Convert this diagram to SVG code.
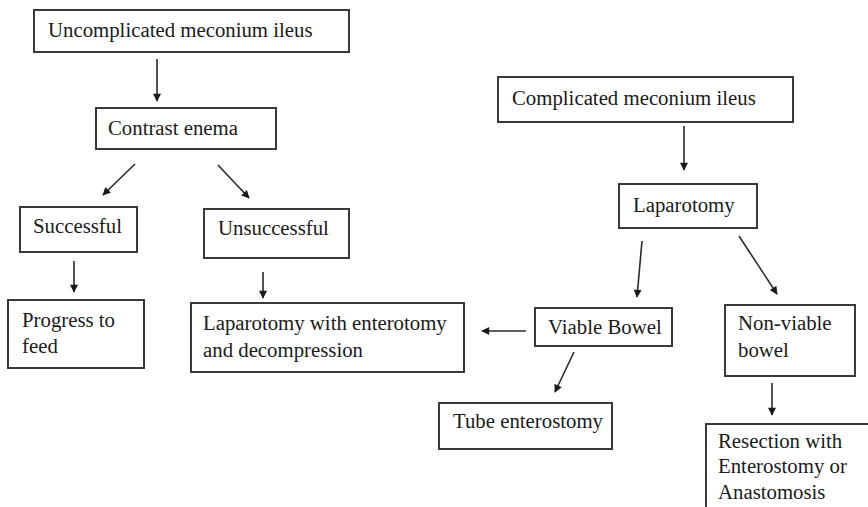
<svg xmlns="http://www.w3.org/2000/svg" width="868" height="507" viewBox="0 0 868 507">
<style>
.box{fill:#fff;stroke:#3a3a3a;stroke-width:2}
.t{font-family:'Liberation Serif','Times New Roman','DejaVu Serif',serif;font-size:20.8px;fill:#1a1a1a}
.c{stroke:#2a2a2a;stroke-width:1.6;fill:none;marker-end:url(#ah)}
</style>
<defs>
<marker id="ah" viewBox="0 0 10 10" refX="9" refY="5" markerWidth="9" markerHeight="8" markerUnits="userSpaceOnUse" orient="auto">
<path d="M0,0 L10,5 L0,10 z" fill="#1a1a1a"/>
</marker>
</defs>
<rect width="868" height="507" fill="#fff"/>
<g id="connectors">
<line class="c" x1="157" y1="59" x2="157" y2="101"/>
<line class="c" x1="135" y1="164" x2="103" y2="195"/>
<line class="c" x1="218" y1="165" x2="249" y2="198"/>
<line class="c" x1="74" y1="261" x2="74" y2="292"/>
<line class="c" x1="263" y1="272" x2="263" y2="298"/>
<line class="c" x1="684" y1="126" x2="684" y2="170"/>
<line class="c" x1="642" y1="241" x2="637" y2="297"/>
<line class="c" x1="739" y1="236" x2="777" y2="294"/>
<line class="c" x1="526" y1="331" x2="482" y2="331"/>
<line class="c" x1="574" y1="352" x2="555" y2="392"/>
<line class="c" x1="772" y1="383" x2="772" y2="415"/>
</g>
<g id="n1"><rect class="box" x="34" y="10" width="315" height="42"/><text class="t" x="48" y="37">Uncomplicated meconium ileus</text></g>
<g id="n2"><rect class="box" x="96" y="108" width="180" height="41"/><text class="t" x="108" y="135">Contrast enema</text></g>
<g id="n3"><rect class="box" x="20" y="207" width="117" height="45"/><text class="t" x="33" y="233">Successful</text></g>
<g id="n4"><rect class="box" x="204" y="209" width="145" height="49"/><text class="t" x="218" y="235">Unsuccessful</text></g>
<g id="n5"><rect class="box" x="8" y="300" width="136" height="68"/><text class="t" x="22" y="327">Progress to</text><text class="t" x="22" y="353">feed</text></g>
<g id="n6"><rect class="box" x="191" y="303" width="273" height="69"/><text class="t" x="203" y="330">Laparotomy with enterotomy</text><text class="t" x="203" y="357">and decompression</text></g>
<g id="n7"><rect class="box" x="498" y="77" width="295" height="45"/><text class="t" x="512" y="105">Complicated meconium ileus</text></g>
<g id="n8"><rect class="box" x="619" y="184" width="138" height="44"/><text class="t" x="633" y="212">Laparotomy</text></g>
<g id="n9"><rect class="box" x="535" y="308" width="137" height="38"/><text class="t" x="548" y="334">Viable Bowel</text></g>
<g id="n10"><rect class="box" x="725" y="305" width="130" height="71"/><text class="t" x="738" y="330">Non-viable</text><text class="t" x="738" y="357">bowel</text></g>
<g id="n11"><rect class="box" x="439" y="403" width="173" height="46"/><text class="t" x="453" y="428">Tube enterostomy</text></g>
<g id="n12"><rect class="box" x="706" y="424" width="170" height="100"/><text class="t" x="718" y="448">Resection with</text><text class="t" x="718" y="473">Enterostomy or</text><text class="t" x="718" y="499">Anastomosis</text></g>
</svg>
